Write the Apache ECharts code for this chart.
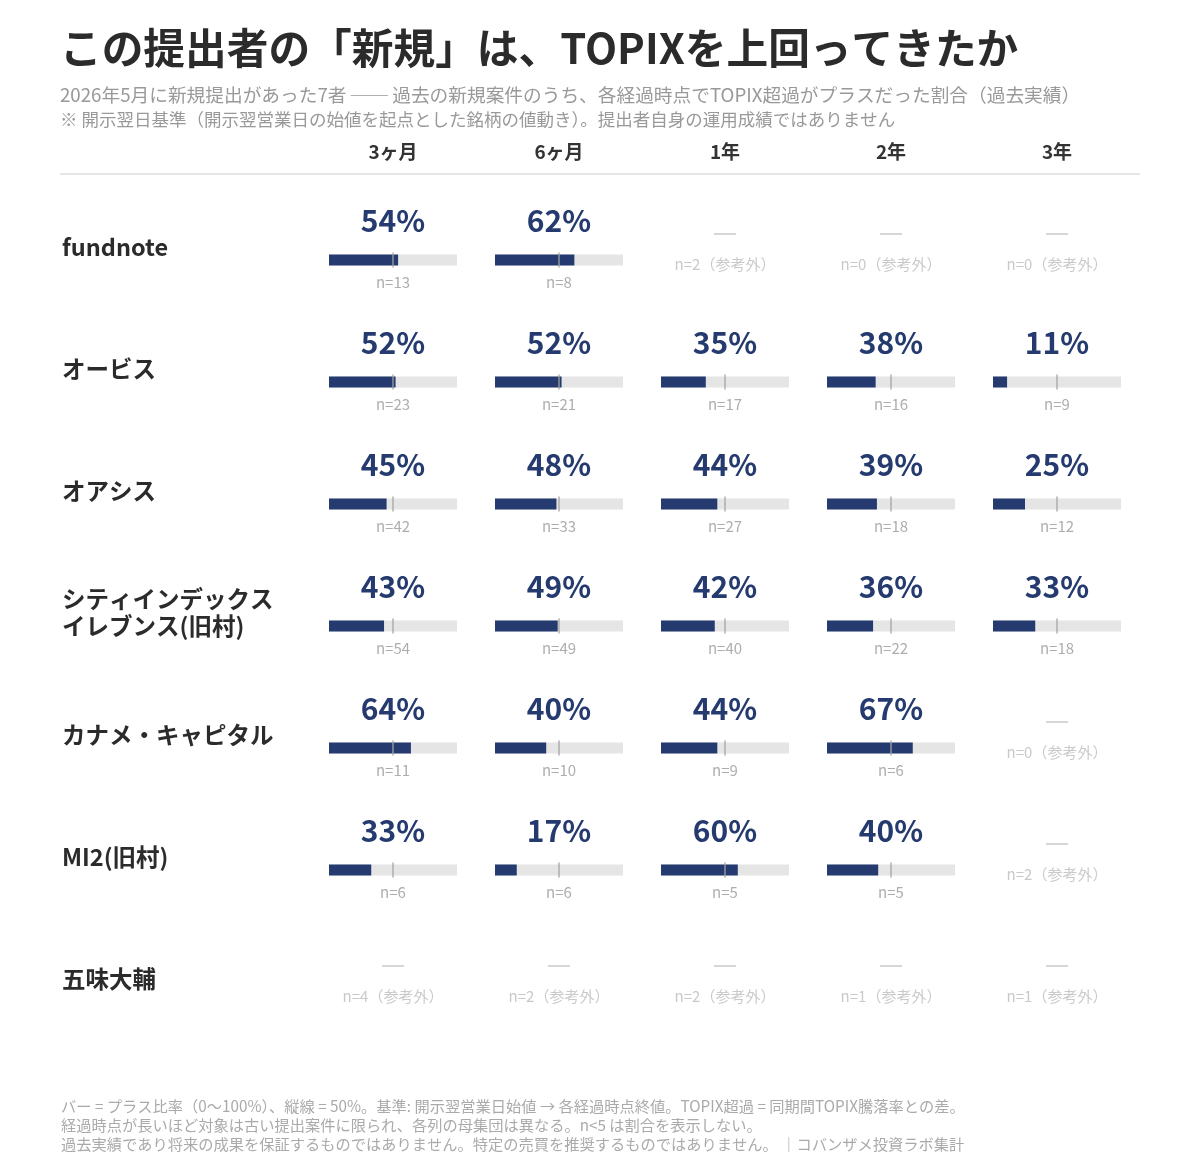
<!DOCTYPE html>
<html>
<head>
<meta charset="utf-8">
<script src="https://cdn.jsdelivr.net/npm/echarts@6/dist/echarts.min.js"></script>
<style>
  html, body { margin: 0; padding: 0; background: #fff; }
  #chart { width: 1200px; height: 1174px; }
</style>
</head>
<body>
<div id="chart"></div>
<script>
// 提出者（行）
var rows = ['fundnote', 'オービス', 'オアシス', 'シティインデックス\nイレブンス(旧村)', 'カナメ・キャピタル', 'MI2(旧村)', '五味大輔'];
// 経過時点（列）
var periods = ['3ヶ月', '6ヶ月', '1年', '2年', '3年'];
// TOPIX超過がプラスだった割合(%)  null = n<5 で非表示
var pct = [
  [54, 62, null, null, null],
  [52, 52, 35, 38, 11],
  [45, 48, 44, 39, 25],
  [43, 49, 42, 36, 33],
  [64, 40, 44, 67, null],
  [33, 17, 60, 40, null],
  [null, null, null, null, null]
];
// 件数 n
var counts = [
  [13, 8, 2, 0, 0],
  [23, 21, 17, 16, 9],
  [42, 33, 27, 18, 12],
  [54, 49, 40, 22, 18],
  [11, 10, 9, 6, 0],
  [6, 6, 5, 5, 2],
  [4, 2, 2, 1, 1]
];
var midline = 50;

var NAVY = '#253a6f';
var FONT = 'Noto Sans CJK JP';

var subtitle1 = '2026年5月に新規提出があった7者 ── 過去の新規案件のうち、各経過時点でTOPIX超過がプラスだった割合（過去実績）';
var subtitle2 = '※ 開示翌日基準（開示翌営業日の始値を起点とした銘柄の値動き）。提出者自身の運用成績ではありません';
var footer = [
  'バー = プラス比率（0〜100%）、縦線 = 50%。基準: 開示翌営業日始値 → 各経過時点終値。TOPIX超過 = 同期間TOPIX騰落率との差。',
  '経過時点が長いほど対象は古い提出案件に限られ、各列の母集団は異なる。n<5 は割合を表示しない。',
  '過去実績であり将来の成果を保証するものではありません。特定の売買を推奨するものではありません。 ｜コバンザメ投資ラボ集計'
].join('\n');

var grids = [], xAxes = [], yAxes = [], series = [];

periods.forEach(function (p, j) {
  grids.push({ left: 329 + 166 * j, width: 128, top: 199, height: 854 });

  xAxes.push({
    gridIndex: j, type: 'value', min: 0, max: 100, position: 'top',
    name: p, nameLocation: 'middle', nameGap: 38,
    nameTextStyle: { fontSize: 19, fontWeight: 'bold', color: '#333', fontFamily: FONT },
    axisLine: { show: false }, axisTick: { show: false },
    axisLabel: { show: false }, splitLine: { show: false }
  });

  yAxes.push({
    gridIndex: j, type: 'category', data: rows, inverse: true,
    axisLine: { show: false }, axisTick: { show: false }, splitLine: { show: false },
    axisLabel: { show: false }
  });

  var col = pct.map(function (r) { return r[j]; });

  // 背景バー（0〜100%）＋割合ラベル
  series.push({
    type: 'bar', xAxisIndex: j, yAxisIndex: j, barWidth: 11, z: 2,
    data: col.map(function (v) { return v == null ? '-' : 100; }),
    itemStyle: { color: '#e5e5e5' },
    label: {
      show: true, position: 'top', distance: 19,
      fontSize: 30, fontWeight: 'bold', color: NAVY, fontFamily: FONT,
      formatter: function (prm) { return col[prm.dataIndex] + '%'; }
    },
    silent: true
  });

  // 値バー
  series.push({
    type: 'bar', xAxisIndex: j, yAxisIndex: j, barWidth: 11, barGap: '-100%', z: 3,
    data: col.map(function (v) { return v == null ? '-' : v; }),
    itemStyle: { color: NAVY },
    silent: true
  });

  // 50% 縦線
  series.push({
    type: 'scatter', xAxisIndex: j, yAxisIndex: j, z: 5,
    symbol: 'rect', symbolSize: [1.6, 15],
    itemStyle: { color: '#a3a3a3' },
    data: col.map(function (v, i) { return v == null ? null : [midline, i]; })
      .filter(function (d) { return d; }),
    silent: true
  });

  // 非表示セルのダッシュ
  series.push({
    type: 'scatter', xAxisIndex: j, yAxisIndex: j, z: 5,
    symbol: 'rect', symbolSize: [22, 2], symbolOffset: [0, -26],
    itemStyle: { color: '#cccccc' },
    data: col.map(function (v, i) { return v == null ? [midline, i] : null; })
      .filter(function (d) { return d; }),
    silent: true
  });

  // n ラベル
  series.push({
    type: 'scatter', xAxisIndex: j, yAxisIndex: j, z: 5,
    symbolSize: 1, itemStyle: { color: 'rgba(0,0,0,0)' },
    data: col.map(function (v, i) {
      var ok = v != null;
      return {
        value: [midline, i],
        label: ok
          ? { show: true, position: 'inside', offset: [0, 22], fontSize: 15, color: '#999' }
          : { show: true, position: 'inside', offset: [0, 4], fontSize: 15, color: '#bbb' }
      };
    }),
    label: {
      fontFamily: FONT,
      formatter: function (prm) {
        var i = prm.value[1];
        return 'n=' + counts[i][j] + (pct[i][j] == null ? '（参考外）' : '');
      }
    },
    silent: true
  });
});

// 行ラベル用（バー中心より少し上に置くため別グリッド）
grids.push({ left: 329, width: 128, top: 186, height: 854 });
xAxes.push({ gridIndex: 5, type: 'value', min: 0, max: 100, show: false });
yAxes.push({
  gridIndex: 5, type: 'category', data: rows, inverse: true,
  axisLine: { show: false }, axisTick: { show: false }, splitLine: { show: false },
  axisLabel: {
    align: 'left', margin: 267,
    fontSize: 23.5, fontWeight: 'bold', color: '#2b2b2b', lineHeight: 27,
    fontFamily: FONT
  }
});

var chart = echarts.init(document.getElementById('chart'));
chart.setOption({
  backgroundColor: '#fff',
  animation: false,
  textStyle: { fontFamily: FONT },
  title: [{
    text: 'この提出者の「新規」は、TOPIXを上回ってきたか',
    left: 60, top: 23, padding: 0,
    textStyle: { fontSize: 41.7, fontWeight: 'bold', color: '#2b2b2b', lineHeight: 50, fontFamily: FONT }
  }, {
    text: '{a|' + subtitle1 + '}\n{b|' + subtitle2 + '}',
    left: 60, top: 83, padding: 0,
    textStyle: {
      fontWeight: 'normal', color: '#999', fontFamily: FONT,
      rich: {
        a: { fontSize: 18.7, lineHeight: 24, color: '#999', fontFamily: FONT },
        b: { fontSize: 17.5, lineHeight: 24, color: '#999', fontFamily: FONT }
      }
    }
  }, {
    text: footer,
    left: 61, top: 1097, padding: 0,
    textStyle: { fontSize: 15.25, fontWeight: 'normal', color: '#aaa', lineHeight: 19, fontFamily: FONT }
  }],
  graphic: [{
    type: 'line', shape: { x1: 60, y1: 174, x2: 1140, y2: 174 },
    style: { stroke: '#dddddd', lineWidth: 1.5 }, silent: true
  }],
  grid: grids,
  xAxis: xAxes,
  yAxis: yAxes,
  series: series
});
</script>
</body>
</html>
